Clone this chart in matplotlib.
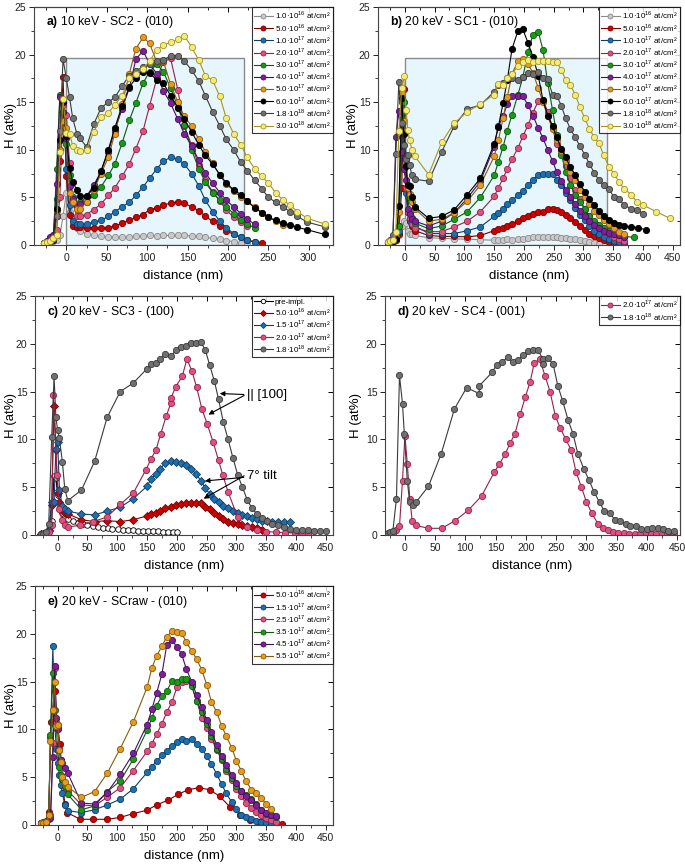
import matplotlib
matplotlib.use("Agg")
import matplotlib.pyplot as plt
from matplotlib.patches import Rectangle
from matplotlib.ticker import MultipleLocator

plt.rcParams['font.family'] = ['Liberation Sans', 'DejaVu Sans']
plt.rcParams['mathtext.fontset'] = 'custom'
plt.rcParams['mathtext.rm'] = 'Liberation Sans'
plt.rcParams['mathtext.bf'] = 'Liberation Sans:bold'

# ---------------- panel a) 10 keV - SC2 - (010) ----------------
a_depth = [-28, -24, -20, -16, -12, -8, -4, 0, 4, 8, 13, 17, 25, 34, 43, 52, 60, 69, 78, 86,
           95, 103, 112, 120, 129, 138, 146, 155, 164, 172, 181, 190, 198, 207, 216, 224,
           233, 242, 250, 259, 268, 277, 286, 298, 320]
a_1e16 = [0.2, 0.25, 0.3, 0.4, 0.5, 1.0, 3.0, 5.5, 3.5, 2.3, 1.8, 1.5, 1.2, 1.0, 0.9, 0.85, 0.8, 0.8,
          0.85, 0.9, 0.9, 1.0, 0.95, 1.0, 1.0, 1.0, 1.0, 0.95, 0.9, 0.8, 0.7, 0.6, 0.45, 0.35, 0.2, 0.1]
a_5e16 = [0.2, 0.25, 0.3, 0.5, 3.0, 8.8, 17.6, 7.2, 3.2, 2.0, 1.9, 1.9, 1.8, 1.8, 1.75, 1.8, 2.0, 2.3,
          2.6, 2.9, 3.2, 3.7, 3.9, 4.2, 4.4, 4.5, 4.4, 4.0, 3.6, 3.0, 2.5, 2.0, 1.5, 1.1, 0.8, 0.5, 0.35, 0.25]
a_1e17 = [0.2, 0.3, 0.4, 0.6, 4.8, 10.0, 15.0, 8.0, 4.2, 2.5, 2.2, 2.2, 2.2, 2.4, 2.6, 3.0, 3.5, 4.0,
          4.5, 5.2, 6.1, 7.0, 8.0, 8.8, 9.2, 9.0, 8.5, 7.5, 6.2, 4.7, 3.5, 2.5, 1.8, 1.2, 0.8, 0.5, 0.3]
a_2e17 = [0.2, 0.3, 0.4, 0.6, 1.6, 5.0, 14.7, 13.7, 8.6, 4.5, 3.0, 3.0, 3.2, 3.7, 4.3, 5.2, 6.0, 7.2,
          8.5, 10.1, 12.0, 14.6, 17.5, 19.2, 19.6, 16.3, 12.5, 10.5, 8.4, 6.8, 5.6, 4.6, 3.7, 2.9, 2.4, 2.0]
a_3e17 = [0.2, 0.3, 0.4, 0.6, 8.0, 15.8, 13.0, 10.6, 7.3, 5.0, 4.0, 4.5, 4.5, 5.2, 6.1, 7.3, 8.5, 10.7,
          13.1, 14.9, 17.0, 18.2, 19.0, 18.2, 16.5, 14.5, 12.6, 10.0, 8.0, 6.6, 5.5, 4.7, 4.0, 3.3, 2.6, 2.2, 1.8]
a_4e17 = [0.2, 0.4, 0.8, 1.0, 6.4, 15.5, 14.0, 11.2, 6.2, 4.8, 4.0, 4.3, 5.1, 6.3, 7.7, 9.8, 12.0, 14.3,
          16.5, 19.5, 20.4, 19.0, 18.0, 16.2, 14.9, 13.2, 11.7, 10.4, 8.9, 7.6, 6.5, 5.5, 4.7, 4.0, 3.3, 2.7, 2.2]
a_5e17 = [0.2, 0.3, 0.4, 0.6, 3.6, 10.0, 13.0, 12.3, 5.5, 4.5, 3.8, 3.8, 4.5, 5.8, 7.5, 9.2, 11.7, 14.8,
          18.0, 20.6, 21.8, 21.2, 19.2, 19.3, 16.9, 15.0, 13.5, 12.5, 11.1, 9.8, 8.6, 7.3, 6.4, 5.7, 5.0, 4.6,
          4.0, 3.4, 2.9, 2.5, 2.1]
a_6e17 = [0.2, 0.3, 0.4, 0.5, 3.8, 11.0, 15.0, 11.4, 8.1, 6.6, 5.8, 5.1, 5.1, 6.0, 7.8, 10.0, 12.3, 14.6,
          16.6, 17.5, 18.2, 18.1, 17.3, 17.0, 15.7, 14.4, 13.2, 11.9, 10.5, 9.4, 8.5, 7.4, 6.5, 5.8, 5.3, 4.6,
          3.9, 3.4, 2.9, 2.6, 2.3, 2.1, 1.85, 1.6, 1.1]
a_18e18 = [0.2, 0.3, 0.4, 0.6, 3.0, 12.0, 19.5, 17.5, 15.5, 13.3, 11.7, 11.2, 10.3, 12.7, 14.4, 15.0, 15.5,
           16.7, 17.8, 18.3, 18.7, 19.0, 19.3, 19.4, 19.9, 19.9, 19.3, 18.4, 17.2, 15.7, 14.0, 12.5, 11.1,
           10.0, 8.7, 7.8, 6.8, 5.9, 5.0, 4.5, 4.0, 3.5, 3.0, 2.4, 1.9]
a_3e18 = [0.2, 0.3, 0.4, 0.7, 1.0, 9.8, 15.3, 11.8, 11.7, 10.4, 10.0, 9.9, 10.0, 11.9, 13.4, 13.9, 14.7,
          15.7, 17.5, 18.0, 18.5, 19.3, 20.5, 21.0, 21.3, 21.6, 22.0, 20.8, 19.4, 17.8, 17.3, 15.6, 13.3,
          11.7, 10.5, 9.2, 8.0, 7.2, 6.5, 5.5, 4.7, 4.2, 3.5, 2.8, 2.2]

# ---------------- panel b) 20 keV - SC1 - (010) ----------------
b_depth = [-28, -24, -20, -15, -10, -5, -2, 2, 5, 8, 12, 17, 40, 62, 83, 105, 127, 150, 157, 165, 172,
           180, 190, 198, 207, 215, 224, 232, 240, 248, 255, 263, 270, 278, 286, 294, 302, 310, 318,
           326, 334, 343, 351, 360, 368]
b_1e16 = [0.3, 0.3, 0.4, 0.5, 1.0, 2.0, 2.5, 2.3, 1.5, 1.2, 1.1, 1.0, 0.75, 0.7, 0.65, 0.6, 0.55, 0.5,
          0.55, 0.55, 0.6, 0.55, 0.6, 0.6, 0.7, 0.8, 0.8, 0.8, 0.85, 0.8, 0.8, 0.75, 0.7, 0.65, 0.6, 0.5,
          0.4, 0.3, 0.2, 0.15]
b_5e16 = [0.2, 0.25, 0.3, 0.5, 1.2, 6.0, 16.4, 9.0, 3.5, 2.5, 2.0, 1.5, 1.0, 0.9, 0.9, 0.85, 1.0, 1.5,
          1.7, 1.8, 2.0, 2.2, 2.5, 2.8, 3.0, 3.3, 3.5, 3.5, 3.8, 3.8, 3.7, 3.5, 3.2, 2.8, 2.4, 2.0, 1.6,
          1.2, 0.9, 0.7, 0.5, 0.3, 0.2, 0.15, 0.1]
b_1e17 = [0.2, 0.3, 0.4, 0.6, 1.5, 9.5, 14.0, 5.5, 3.5, 2.5, 2.2, 2.0, 1.2, 1.2, 1.2, 1.5, 1.9, 3.0,
          3.4, 3.8, 4.3, 4.7, 5.2, 5.7, 6.3, 6.8, 7.3, 7.5, 7.5, 7.5, 6.8, 6.3, 5.5, 4.7, 3.9, 3.2, 2.6,
          2.0, 1.5, 1.2, 0.8, 0.6, 0.4, 0.3, 0.2]
b_2e17 = [0.2, 0.3, 0.4, 0.6, 2.0, 15.0, 12.0, 6.0, 3.5, 2.8, 2.2, 1.8, 1.4, 1.4, 1.9, 2.5, 3.5, 5.1,
          6.0, 7.0, 8.0, 9.0, 10.2, 11.4, 12.6, 13.9, 15.1, 15.2, 14.0, 12.3, 10.6, 9.6, 8.3, 7.0, 5.8,
          4.8, 3.8, 3.0, 2.3, 1.8, 1.4, 1.1, 0.8, 0.6, 0.4]
b_3e17 = [0.2, 0.3, 0.4, 0.8, 2.0, 13.2, 15.0, 9.3, 5.0, 3.5, 2.8, 2.3, 1.7, 2.0, 2.7, 3.5, 5.0, 7.3,
          8.7, 10.3, 12.0, 13.7, 15.8, 17.6, 20.3, 22.1, 22.4, 20.5, 17.0, 14.2, 11.6, 9.5, 7.7, 6.3,
          5.3, 4.5, 3.8, 3.0, 2.5, 2.1, 1.8, 1.5, 1.2, 1.0, 0.9, 0.8]
b_4e17 = [0.2, 0.3, 0.5, 11.3, 14.1, 9.8, 8.0, 6.8, 3.8, 3.3, 2.7, 2.5, 2.0, 2.5, 3.4, 4.9, 6.7, 10.3,
          12.5, 13.5, 14.8, 15.6, 15.7, 15.6, 14.7, 13.6, 12.3, 11.2, 10.0, 8.8, 7.7, 6.7, 5.8, 5.0, 4.3,
          3.6, 3.0, 2.5, 2.1, 1.8, 1.5, 1.3, 1.1, 1.0, 0.8]
b_5e17 = [0.2, 0.3, 0.4, 0.8, 3.5, 16.0, 13.0, 9.0, 6.0, 5.4, 4.5, 3.8, 2.5, 2.7, 3.4, 4.6, 6.3, 9.3,
          11.0, 13.3, 15.5, 18.0, 19.3, 19.5, 19.0, 18.1, 16.5, 15.0, 13.5, 12.2, 11.0, 9.9, 8.8, 7.7,
          6.8, 5.8, 5.0, 4.3, 3.6, 3.1, 2.6, 2.2, 1.8, 1.4, 1.1]
b_6e17 = [0.2, 0.3, 0.4, 0.6, 4.1, 15.4, 11.7, 8.3, 6.3, 6.2, 5.0, 4.0, 2.8, 3.0, 3.7, 5.3, 7.0, 10.6,
          12.4, 14.9, 17.3, 20.6, 22.5, 22.7, 21.2, 19.8, 17.8, 15.2, 13.6, 12.5, 11.3, 10.1, 9.2, 8.2,
          7.3, 6.4, 5.6, 4.8, 4.2, 3.6, 3.0, 2.6, 2.3, 2.1, 2.0, 1.9, 1.8, 1.6]
b_18e18 = [0.3, 0.5, 1.0, 9.6, 17.1, 12.8, 10.5, 9.0, 9.4, 8.4, 7.3, 6.9, 6.7, 9.8, 12.5, 14.3, 14.7,
           16.1, 16.8, 17.0, 17.5, 17.5, 17.3, 17.6, 18.1, 18.0, 18.2, 17.5, 17.4, 15.8, 15.7, 14.6, 13.3,
           12.2, 11.3, 10.4, 9.5, 8.5, 7.6, 6.8, 6.3, 5.9, 5.0, 4.8, 4.2, 3.8, 3.7, 3.3]
b_3e18 = [0.3, 0.4, 0.5, 1.4, 12.0, 16.5, 17.8, 14.2, 12.1, 11.0, 10.0, 9.3, 7.4, 10.8, 12.8, 14.0, 14.8,
          15.8, 16.9, 16.8, 17.5, 18.0, 18.8, 19.2, 19.4, 19.2, 19.3, 19.3, 19.3, 19.2, 19.2, 18.4, 17.3,
          16.8, 15.8, 14.5, 13.3, 12.2, 11.3, 10.7, 9.4, 8.2, 7.5, 6.6, 5.9, 5.3, 4.5, 4.2, 3.5, 2.8]
b_tail_3e17 = [385]
b_tail_6e17 = [380, 392, 405]
b_tail_18e18 = [380, 390, 400]
b_tail_3e18 = [380, 390, 400, 422, 445]

# ---------------- panel c) 20 keV - SC3 - (100) ----------------
c_depth = [-28, -24, -20, -15, -10, -6, -3, 0, 3, 8, 12, 17, 40, 62, 83, 105, 127, 150, 157, 165, 172,
           180, 190, 198, 207, 215, 224, 232, 240, 248, 255, 263, 270, 278, 286, 294, 302, 310, 318,
           326, 334, 343, 351, 360, 370, 380, 390, 400, 410, 420, 430, 440, 450]
c_pre_x = [-28, -24, -20, -15, -10, -6, -3, 0, 4, 8, 13, 17, 25, 34, 42, 50, 59, 67, 76, 84, 92, 101,
           109, 118, 126, 134, 143, 151, 160, 168, 176, 185, 193, 200]
c_pre = [0.1, 0.15, 0.2, 0.5, 1.5, 6.2, 6.0, 4.2, 3.0, 2.3, 1.9, 1.7, 1.5, 1.3, 1.1, 1.0, 0.9, 0.8, 0.75,
         0.7, 0.65, 0.6, 0.55, 0.5, 0.5, 0.45, 0.45, 0.4, 0.4, 0.4, 0.35, 0.35, 0.3, 0.3]
c_5e16 = [0.1, 0.15, 0.2, 0.5, 3.1, 13.5, 8.9, 4.4, 3.5, 2.6, 2.3, 2.2, 1.6, 1.4, 1.5, 1.4, 1.6, 2.0,
          2.2, 2.3, 2.5, 2.8, 2.9, 3.1, 3.2, 3.3, 3.3, 3.3, 3.3, 2.9, 2.7, 2.3, 2.0, 1.7, 1.4, 1.25, 1.2,
          1.0, 0.9, 0.8, 0.7, 0.55]
c_15e17 = [0.1, 0.15, 0.2, 0.4, 3.5, 3.5, 9.0, 9.7, 4.7, 3.0, 2.7, 2.5, 2.2, 2.1, 2.5, 2.9, 3.8, 5.1,
           5.9, 6.4, 6.9, 7.5, 7.7, 7.6, 7.5, 7.3, 6.9, 6.4, 5.7, 4.9, 4.3, 3.8, 3.4, 3.0, 2.8, 2.5, 2.3,
           2.1, 2.0, 1.8, 1.7, 1.5, 1.5, 1.4, 1.35, 1.35, 1.4]
c_2e17_x = [-28, -24, -20, -15, -10, -7, -1, 3, 7, 13, 17, 38, 60, 83, 105, 127, 148, 157, 165, 173,
            182, 190, 190, 198, 209, 217, 225, 233, 242, 251, 261, 270, 277, 286, 302, 318, 334, 350,
            366, 382, 398, 410, 420]
c_2e17 = [0.1, 0.15, 0.2, 0.3, 1.0, 14.6, 6.3, 2.7, 1.6, 1.0, 0.85, 1.0, 1.4, 1.9, 3.2, 4.4, 6.8, 8.0,
          8.9, 10.6, 12.4, 13.8, 14.3, 15.5, 16.6, 18.4, 17.2, 15.5, 13.2, 11.6, 9.7, 7.8, 6.3, 4.5, 1.85,
          0.8, 0.5, 0.35, 0.3, 0.25, 0.2, 0.15, 0.15]
c_18e18 = [0.1, 0.15, 0.3, 1.2, 10.2, 16.6, 12.3, 11.0, 10.1, 7.6, 4.8, 3.6, 4.7, 7.7, 12.3, 15.0, 15.9,
           17.4, 17.9, 18.0, 18.4, 18.9, 18.7, 19.3, 19.7, 19.8, 20.1, 20.1, 20.2, 19.3, 17.8, 16.1, 14.2,
           11.8, 10.0, 8.1, 6.3, 5.0, 3.7, 2.8, 2.2, 1.8, 1.5, 1.2, 1.0, 0.8, 0.6, 0.55, 0.5, 0.5, 0.45,
           0.4, 0.4]

# ---------------- panel d) 20 keV - SC4 - (001) ----------------
d_2e17_x = [-28, -24, -20, -14, -9, -4, 0, 4, 8, 12, 18, 39, 61, 83, 105, 127, 148, 156, 166, 174, 182,
            191, 199, 207, 214, 223, 232, 240, 249, 257, 266, 275, 283, 292, 300, 309, 319, 328, 336,
            344, 353, 362, 371, 380, 389, 398, 407, 416, 425, 434, 445]
d_2e17 = [0.1, 0.15, 0.2, 0.5, 0.9, 5.7, 10.4, 7.4, 3.8, 1.5, 1.0, 0.7, 0.7, 1.5, 2.6, 4.1, 6.6, 7.4,
          8.5, 9.6, 10.6, 12.7, 14.4, 16.0, 18.0, 18.4, 16.6, 15.0, 12.4, 11.2, 10.0, 8.9, 6.6, 5.0, 3.5,
          2.3, 1.2, 0.7, 0.5, 0.3, 0.25, 0.2, 0.15, 0.1, 0.1, 0.1, 0.1, 0.1, 0.1, 0.1, 0.1]
d_18e18_x = [-28, -24, -20, -14, -9, -4, -1, 4, 8, 13, 18, 39, 60, 82, 102, 123, 123, 144, 152, 161,
             170, 178, 187, 195, 203, 212, 220, 228, 228, 236, 245, 253, 261, 270, 278, 286, 296, 304,
             313, 322, 330, 339, 347, 356, 365, 373, 382, 391, 400, 409, 418, 427, 435, 445]
d_18e18 = [0.2, 0.3, 0.4, 3.8, 16.7, 13.7, 10.6, 5.6, 3.4, 3.1, 3.4, 5.1, 8.5, 13.2, 15.4, 14.8, 15.6,
           17.0, 17.8, 18.1, 18.6, 18.1, 18.3, 18.8, 19.2, 19.3, 19.4, 18.4, 17.9, 18.5, 17.9, 15.6, 14.0,
           12.0, 10.6, 8.5, 6.9, 5.8, 4.5, 3.4, 2.5, 2.3, 1.6, 1.5, 1.1, 0.95, 0.9, 0.6, 0.6, 0.7, 0.7,
           0.6, 0.45, 0.4]

# ---------------- panel e) 20 keV - SCraw - (010) ----------------
e_depth = [-28, -24, -20, -15, -12, -8, -5, -2, 0, 3, 5, 8, 12, 17, 40, 62, 83, 105, 127, 150, 158,
           166, 175, 183, 192, 200, 208, 216, 225, 233, 242, 250, 258, 267, 275, 283, 292, 300, 308,
           316, 325, 333, 342, 350, 358, 366]
e_5e16_x = [-28, -24, -20, -15, -11, -5, 0, 4, 8, 12, 16, 38, 60, 83, 105, 127, 150, 166, 185, 202,
            219, 237, 255, 272, 289, 306, 323, 340, 356, 377]
e_5e16 = [0.2, 0.25, 0.3, 1.4, 10.8, 14.0, 10.3, 8.5, 4.8, 2.2, 1.3, 0.6, 0.6, 0.6, 0.8, 1.2, 1.55, 2.1,
          2.6, 3.2, 3.7, 3.9, 3.7, 3.0, 1.9, 1.1, 0.5, 0.3, 0.2, 0.1]
e_15e17 = [0.2, 0.25, 0.3, 0.7, 9.2, 18.7, 10.5, 8.0, 6.5, 5.2, 4.2, 3.3, 2.1, 1.5, 1.3, 1.6, 2.1, 2.7,
           3.8, 5.5, 6.1, 6.7, 7.3, 7.7, 8.3, 8.7, 9.0, 8.8, 9.0, 8.5, 8.0, 7.2, 6.4, 5.3, 4.3, 3.3, 2.4,
           1.7, 1.1, 0.8, 0.6, 0.45, 0.3, 0.25, 0.2, 0.15]
e_25e17 = [0.2, 0.25, 0.3, 0.6, 1.0, 8.6, 16.4, 10.8, 10.5, 7.8, 6.8, 4.9, 4.0, 3.6, 2.1, 2.0, 2.9, 3.9,
           5.7, 7.7, 8.5, 9.5, 10.6, 11.8, 12.9, 14.4, 15.0, 15.1, 14.6, 13.0, 11.2, 10.2, 9.0, 7.9, 6.8,
           5.7, 4.7, 3.8, 3.0, 2.3, 1.8, 1.4, 1.0, 0.7, 0.5, 0.3]
e_35e17 = [0.2, 0.3, 0.4, 1.0, 9.4, 15.9, 12.0, 10.1, 7.8, 6.1, 5.2, 4.8, 4.1, 3.2, 1.6, 2.0, 3.5, 4.6,
           6.9, 9.9, 11.2, 12.5, 13.5, 14.0, 15.1, 15.0, 15.3, 15.3, 14.5, 13.0, 11.8, 10.6, 9.3, 8.0, 6.9,
           5.9, 4.9, 4.1, 3.6, 3.1, 2.7, 2.2, 1.6, 1.2, 1.0, 0.8]
e_45e17 = [0.2, 0.25, 0.3, 0.7, 0.7, 7.1, 16.6, 11.2, 10.0, 8.0, 6.8, 6.5, 6.0, 5.4, 2.3, 2.2, 3.4, 5.3,
           7.5, 10.5, 12.1, 13.8, 15.8, 18.8, 19.4, 18.6, 17.9, 16.3, 15.0, 13.6, 12.3, 11.0, 9.7, 8.4,
           7.2, 6.3, 5.2, 4.4, 3.6, 3.0, 2.6, 2.1, 1.6, 1.3, 1.1, 0.9]
e_55e17 = [0.2, 0.25, 0.3, 1.0, 8.8, 12.0, 15.0, 10.4, 10.5, 7.9, 6.6, 5.0, 4.5, 4.0, 2.9, 3.5, 5.4, 8.0,
           10.8, 14.4, 16.4, 17.7, 18.7, 19.7, 20.3, 20.2, 20.1, 19.1, 18.2, 17.4, 16.2, 14.7, 12.9, 11.8,
           10.4, 9.3, 8.1, 6.7, 5.7, 4.6, 3.7, 3.3, 2.8, 2.2, 1.7]

# colours: (fill, edge/line)
LGRAY = ('#c9c9c9', '#8a8a8a')
RED = ('#cc0000', '#7a0000')
BLUE = ('#1f6fae', '#0d3e66')
PINK = ('#e0507e', '#8f2447')
GREEN = ('#1a9a1a', '#0c5a0c')
PURPLE = ('#7d1f9a', '#45105a')
ORANGE = ('#e59b1c', '#8a5a0a')
BLACK = ('#000000', '#000000')
DGRAY = ('#707070', '#3a3a3a')
YELLOW = ('#f3ec78', '#a69522')


def lab(m, e):
    return m + '·10$^{' + e + '}$ at/cm²'


def draw(ax, x, y, col, label, marker='o', ms=4.5, fill=None):
    ax.plot(x, y, '-', marker=marker, color=col[1], mfc=col[0] if fill is None else fill,
            mec=col[1], ms=ms, mew=0.6, lw=0.8, label=label)


def style(ax, xlim, xmax_tick, title, ylab_x):
    ax.set_xlim(*xlim)
    ax.set_ylim(0, 25)
    ax.xaxis.set_minor_locator(MultipleLocator(25))
    ax.yaxis.set_major_locator(MultipleLocator(5))
    ax.yaxis.set_minor_locator(MultipleLocator(2.5))
    ax.set_xticks([t for t in range(0, xmax_tick + 1, 50)])
    ax.tick_params(which='both', direction='out', labelsize=7.5, colors='#222222', pad=2)
    ax.tick_params(which='major', length=3.5, width=0.7)
    ax.tick_params(which='minor', length=2, width=0.6)
    for s in ax.spines.values():
        s.set_color('#444444')
        s.set_linewidth(0.8)
    top = ax.secondary_xaxis('top')
    top.set_xticks(ax.get_xticks())
    top.xaxis.set_minor_locator(MultipleLocator(25))
    top.tick_params(which='both', direction='in', labeltop=False)
    top.tick_params(which='major', length=3.5, width=0.7)
    top.tick_params(which='minor', length=2, width=0.6)
    right = ax.secondary_yaxis('right')
    right.yaxis.set_major_locator(MultipleLocator(5))
    right.yaxis.set_minor_locator(MultipleLocator(2.5))
    right.tick_params(which='both', direction='in', labelright=False)
    right.tick_params(which='major', length=3.5, width=0.7)
    right.tick_params(which='minor', length=2, width=0.6)
    for s in list(top.spines.values()) + list(right.spines.values()):
        s.set_color('#444444')
        s.set_linewidth(0.8)
    ax.set_xlabel('distance (nm)', fontsize=9.5)
    ax.set_ylabel('H (at%)', fontsize=9.5)
    ax.xaxis.set_label_coords(0.5, -0.105)
    ax.yaxis.set_label_coords(ylab_x, 0.5)
    ax.text(0.04, 0.935, title, transform=ax.transAxes, fontsize=8.8, va='center')
    leg = ax.legend(loc='upper right', fontsize=5.8, frameon=True, fancybox=False, borderaxespad=0,
                    borderpad=0.3, labelspacing=0.02, handlelength=2.3, handletextpad=0.3,
                    markerscale=0.8)
    leg.get_frame().set_edgecolor('#000000')
    leg.get_frame().set_linewidth(0.8)


fig = plt.figure(figsize=(6.85, 8.65), dpi=100)
ax_a = fig.add_axes([0.0496, 0.7168, 0.4365, 0.2751])
ax_b = fig.add_axes([0.5518, 0.7168, 0.4409, 0.2751])
ax_c = fig.add_axes([0.0511, 0.3815, 0.4350, 0.2763])
ax_d = fig.add_axes([0.5620, 0.3815, 0.4307, 0.2763])
ax_e = fig.add_axes([0.0511, 0.0462, 0.4350, 0.2763])

# panel a
ax_a.add_patch(Rectangle((0, 0), 220, 19.6, facecolor='#e7f5fc', edgecolor='#8a8a8a', lw=1.0, zorder=0))
for y, col, m, e in [(a_1e16, LGRAY, '1.0', '16'), (a_5e16, RED, '5.0', '16'), (a_1e17, BLUE, '1.0', '17'),
                     (a_2e17, PINK, '2.0', '17'), (a_3e17, GREEN, '3.0', '17'), (a_4e17, PURPLE, '4.0', '17'),
                     (a_5e17, ORANGE, '5.0', '17'), (a_6e17, BLACK, '6.0', '17'),
                     (a_18e18, DGRAY, '1.8', '18'), (a_3e18, YELLOW, '3.0', '18')]:
    draw(ax_a, a_depth[:len(y)], y, col, lab(m, e))
style(ax_a, (-40, 330), 300, r'$\mathbf{a)}$ 10 keV - SC2 - (010)', -0.057)

# panel b
ax_b.add_patch(Rectangle((0, 0), 340, 19.6, facecolor='#e7f5fc', edgecolor='#8a8a8a', lw=1.0, zorder=0))
for y, tail, col, m, e in [(b_1e16, [], LGRAY, '1.0', '16'), (b_5e16, [], RED, '5.0', '16'),
                           (b_1e17, [], BLUE, '1.0', '17'), (b_2e17, [], PINK, '2.0', '17'),
                           (b_3e17, b_tail_3e17, GREEN, '3.0', '17'), (b_4e17, [], PURPLE, '4.0', '17'),
                           (b_5e17, [], ORANGE, '5.0', '17'), (b_6e17, b_tail_6e17, BLACK, '6.0', '17'),
                           (b_18e18, b_tail_18e18, DGRAY, '1.8', '18'), (b_3e18, b_tail_3e18, YELLOW, '3.0', '18')]:
    x = b_depth[:len(y) - len(tail)] + tail
    draw(ax_b, x, y, col, lab(m, e))
style(ax_b, (-45, 462), 450, r'$\mathbf{b)}$ 20 keV - SC1 - (010)', -0.063)

# panel c
draw(ax_c, c_pre_x, c_pre, BLACK, 'pre-impl.', fill='white', ms=4.0)
draw(ax_c, c_depth[:len(c_5e16)], c_5e16, RED, lab('5.0', '16'), marker='D', ms=3.8)
draw(ax_c, c_depth[:len(c_15e17)], c_15e17, BLUE, lab('1.5', '17'), marker='D', ms=3.8)
draw(ax_c, c_2e17_x, c_2e17, PINK, lab('2.0', '17'))
draw(ax_c, c_depth[:len(c_18e18)], c_18e18, DGRAY, lab('1.8', '18'))
style(ax_c, (-38, 462), 450, r'$\mathbf{c)}$ 20 keV - SC3 - (100)', -0.06)
arr = dict(arrowstyle='-|>', color='black', lw=0.8, mutation_scale=7, shrinkA=0, shrinkB=0)
ax_c.annotate('|| [100]', xy=(272, 14.8), xytext=(317, 14.6), fontsize=9.5, va='center', arrowprops=arr)
ax_c.annotate('', xy=(253, 12.6), xytext=(313, 14.6), arrowprops=arr)
ax_c.annotate('7° tilt', xy=(247, 5.65), xytext=(317, 6.2), fontsize=9.5, va='center', arrowprops=arr)
ax_c.annotate('', xy=(245, 3.8), xytext=(313, 6.2), arrowprops=arr)

# panel d
draw(ax_d, d_2e17_x, d_2e17, PINK, lab('2.0', '17'))
draw(ax_d, d_18e18_x, d_18e18, DGRAY, lab('1.8', '18'))
style(ax_d, (-33, 455), 450, r'$\mathbf{d)}$ 20 keV - SC4 - (001)', -0.078)

# panel e
draw(ax_e, e_5e16_x, e_5e16, RED, lab('5.0', '16'))
for y, col, m in [(e_15e17, BLUE, '1.5'), (e_25e17, PINK, '2.5'), (e_35e17, GREEN, '3.5'),
                  (e_45e17, PURPLE, '4.5'), (e_55e17, ORANGE, '5.5')]:
    draw(ax_e, e_depth[:len(y)], y, col, lab(m, '17'))
style(ax_e, (-38, 462), 450, r'$\mathbf{e)}$ 20 keV - SCraw - (010)', -0.06)

fig.savefig('out.png', dpi=100)
